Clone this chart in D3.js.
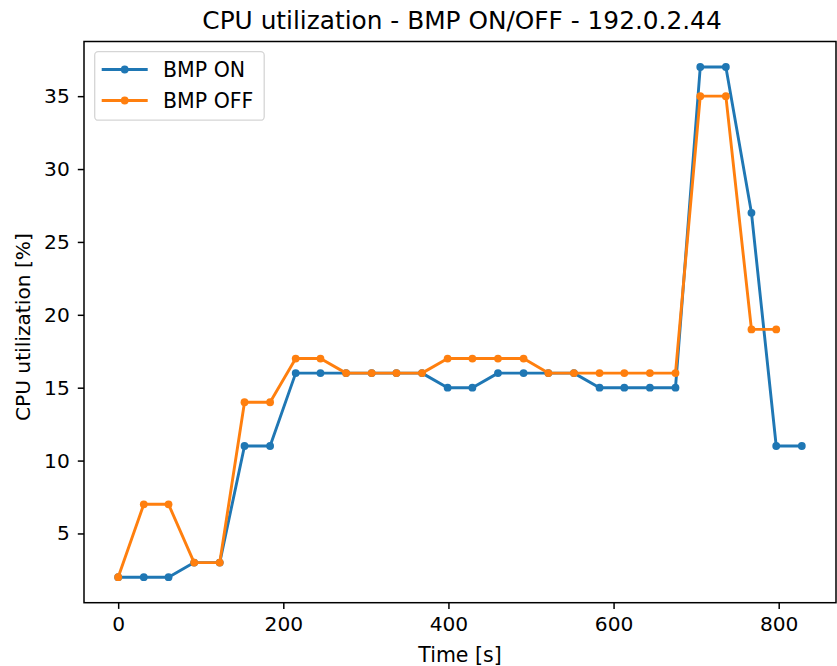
<!DOCTYPE html>
<html><head><meta charset="utf-8">
<script src="https://cdn.jsdelivr.net/npm/d3@7"></script>
<style>body{margin:0;background:#fff}svg{display:block}text{font-family:"DejaVu Sans",sans-serif}</style>
</head><body><svg id="c" width="837" height="666"></svg>
<script>
const timesOn = [0,31,61,92,123,153,184,215,245,276,307,337,368,399,429,460,491,521,552,583,613,644,675,705,736,767,797,828];
const cpuOn  = [2,2,2,3,3,11,11,16,16,16,16,16,16,15,15,16,16,16,16,15,15,15,15,37,37,27,11,11];
const timesOff = [0,31,61,92,123,153,184,215,245,276,307,337,368,399,429,460,491,521,552,583,613,644,675,705,736,767,797];
const cpuOff = [2,7,7,3,3,14,14,17,17,16,16,16,16,17,17,17,17,16,16,16,16,16,16,35,35,19,19];
const xTicks = [0,200,400,600,800];
const yTicks = [5,10,15,20,25,30,35];
const seriesNames = ["BMP ON","BMP OFF"];
const colors = ["#1f77b4","#ff7f0e"];

const svg = d3.select("#c");
const L=84, R=836, T=41.5, B=602.7;
const x = d3.scaleLinear().domain([-41.4, 869.4]).range([L, R]);
const y = d3.scaleLinear().domain([0.25, 38.75]).range([B, T]);

const series = [
  {name: seriesNames[0], color: colors[0], pts: timesOn.map((t,i)=>[t,cpuOn[i]])},
  {name: seriesNames[1], color: colors[1], pts: timesOff.map((t,i)=>[t,cpuOff[i]])}
];
const line = d3.line().x(d=>x(d[0])).y(d=>y(d[1]));
series.forEach(s=>{
  svg.append("path").datum(s.pts).attr("d",line).attr("fill","none")
    .attr("stroke",s.color).attr("stroke-width",2.9).attr("stroke-linejoin","round");
  svg.append("g").selectAll("circle").data(s.pts).join("circle")
    .attr("cx",d=>x(d[0])).attr("cy",d=>y(d[1])).attr("r",3.9).attr("fill",s.color);
});

const xa = svg.append("g").attr("transform",`translate(0,${B})`)
  .call(d3.axisBottom(x).tickValues(xTicks).tickSize(6.2).tickPadding(8).tickFormat(d3.format("d")));
const ya = svg.append("g").attr("transform",`translate(${L},0)`)
  .call(d3.axisLeft(y).tickValues(yTicks).tickSize(6.2).tickPadding(8).tickFormat(d3.format("d")));
[xa,ya].forEach(a=>{
  a.select(".domain").remove();
  a.selectAll("line").attr("stroke","#000").attr("stroke-width",1.5);
  a.selectAll("text").attr("font-size",20.2).attr("fill","#000").attr("font-family","DejaVu Sans");
});
svg.append("rect").attr("x",L).attr("y",T).attr("width",R-L).attr("height",B-T)
  .attr("fill","none").attr("stroke","#000").attr("stroke-width",1.5);

svg.append("text").attr("x",462).attr("y",29).attr("text-anchor","middle")
  .attr("font-size",24.8).text("CPU utilization - BMP ON/OFF - 192.0.2.44");
svg.append("text").attr("x",(L+R)/2).attr("y",662).attr("text-anchor","middle")
  .attr("font-size",20.5).text("Time [s]");
svg.append("text").attr("transform",`translate(30,${(T+B)/2+5}) rotate(-90)`).attr("text-anchor","middle")
  .attr("font-size",20.2).text("CPU utilization [%]");

const lg = svg.append("g");
lg.append("rect").attr("x",94.7).attr("y",51.7).attr("width",169.5).attr("height",68.5).attr("rx",3.5)
  .attr("fill","#fff").attr("fill-opacity",0.8).attr("stroke","#d5d5d5").attr("stroke-width",1.3);
series.forEach((s,i)=>{
  const yy = 69.5 + i*31;
  lg.append("line").attr("x1",101.7).attr("x2",147.7).attr("y1",yy).attr("y2",yy)
    .attr("stroke",s.color).attr("stroke-width",2.9);
  lg.append("circle").attr("cx",124.7).attr("cy",yy).attr("r",3.9).attr("fill",s.color);
  lg.append("text").attr("x",163).attr("y",yy+7.3).attr("font-size",20.5).text(s.name);
});
</script></body></html>
